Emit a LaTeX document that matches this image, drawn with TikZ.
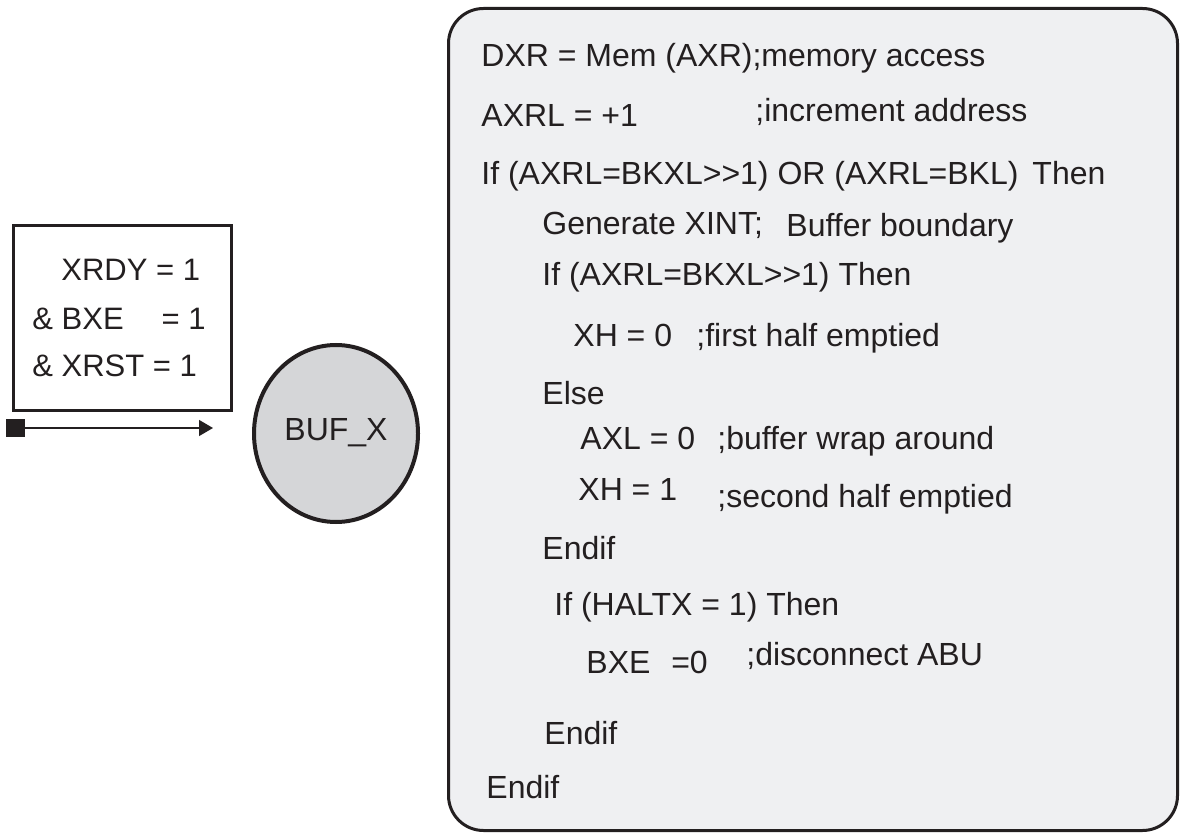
\documentclass[tikz,border=0pt]{standalone}
\usepackage{fontspec}
\setmainfont{Liberation Sans}
\usetikzlibrary{arrows.meta,shapes.geometric}
\definecolor{ink}{HTML}{231F20}
\definecolor{panel}{HTML}{EFF0F2}
\definecolor{bubble}{HTML}{D5D6D8}
\tikzset{
  code/.style={anchor=base west, inner sep=0pt, text=ink, font=\fontsize{16pt}{19pt}\selectfont},
  cond/.style={anchor=base west, inner sep=0pt, text=ink, font=\fontsize{15.5pt}{18pt}\selectfont},
}
\begin{document}
\begin{tikzpicture}[x=0.5pt,y=-0.5pt]
\useasboundingbox (0,0) rectangle (1181,833);
% main rounded panel
\draw[ink, line width=1.5pt, fill=panel, rounded corners=17.5pt] (448.5,8.5) rectangle (1177.5,830.5);
% condition box
\draw[ink, line width=1.5pt] (13.5,225.5) rectangle (231.5,410.5);
\node[cond] (c1) at (61,281) {XRDY = 1};
\node[cond] (c2) at (32,330) {\& BXE\hspace{19pt}= 1};
\node[cond] (c3) at (32,377) {\& XRST = 1};
% transition arrow
\node[fill=ink, minimum width=9.5pt, minimum height=9pt, inner sep=0pt] (sq) at (15.5,428) {};
\coordinate (tip) at (213,428);
\draw[ink, line width=0.7pt, -{Triangle[length=7pt,width=8pt]}] (sq.east) -- (tip);
% state bubble
\node[ellipse, draw=ink, line width=2pt, fill=bubble, minimum width=82pt, minimum height=88.5pt, inner sep=0pt] (buf) at (336,433.5) {};
\node[anchor=base, inner sep=0pt, text=ink, font=\fontsize{16pt}{19pt}\selectfont] (buflbl) at (336,440) {BUF\_X};
% code lines
\node[code] (l1) at (481,67) {DXR = Mem (AXR);memory access};
\node[code] (l2a) at (481,127) {AXRL = +1};
\node[code] (l2b) at (755,122) {;increment address};
\node[code] (l3) at (481,185) {If (AXRL=BKXL>{}>1) OR (AXRL=BKL)\hspace{7pt}Then};
\node[code] (l4a) at (542,235) {Generate XINT;};
\node[code] (l4b) at (786,237) {Buffer boundary};
\node[code] (l5) at (542,286) {If (AXRL=BKXL>{}>1) Then};
\node[code] (l6a) at (573,347) {XH = 0};
\node[code] (l6b) at (696,347) {;first half emptied};
\node[code] (l7) at (542,405) {Else};
\node[code] (l8a) at (580,449) {AXL = 0};
\node[code] (l8b) at (717,449) {;buffer wrap around};
\node[code] (l9a) at (578,500) {XH = 1};
\node[code] (l9b) at (717,507) {;second half emptied};
\node[code] (l10) at (542,559) {Endif};
\node[code] (l11) at (554,615) {If (HALTX = 1) Then};
\node[code] (l12a) at (586,673) {BXE\hspace{6pt} =0};
\node[code] (l12b) at (746,665) {;disconnect ABU};
\node[code] (l13) at (544,744) {Endif};
\node[code] (l14) at (486,798) {Endif};
\end{tikzpicture}
\end{document}
